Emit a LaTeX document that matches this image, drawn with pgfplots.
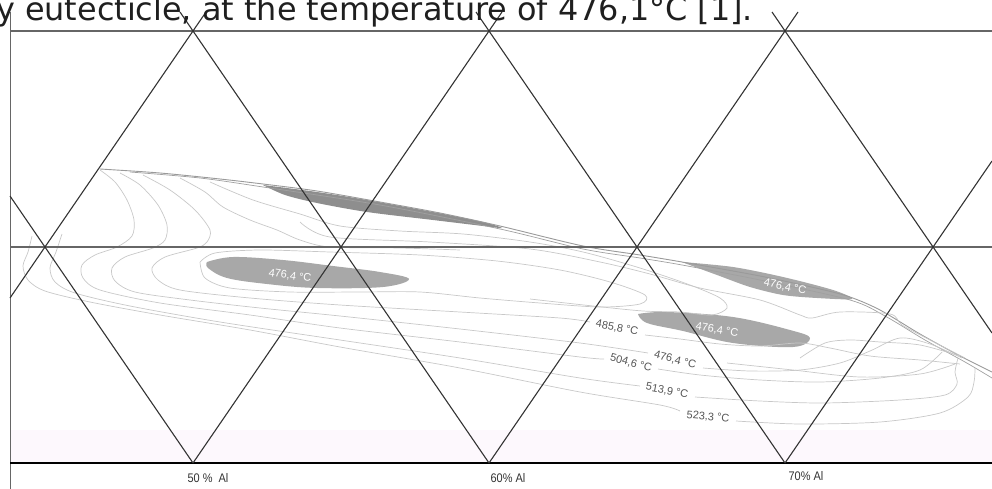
\documentclass[border=0pt]{standalone}
\usepackage{pgfplots}
\pgfplotsset{compat=1.18}
\usepackage{fontspec}
\setmainfont{Liberation Sans}
\newfontfamily\dejavu{DejaVu Sans}
\definecolor{gridc}{HTML}{333333}
\definecolor{hline}{HTML}{666666}
\definecolor{iso}{HTML}{C8C8C8}
\definecolor{bnd}{HTML}{9A9A9A}
\definecolor{blob}{HTML}{A8A8A8}
\definecolor{band}{HTML}{8E8E8E}
\definecolor{pinkbg}{HTML}{FDF8FD}
\definecolor{lbl}{HTML}{555555}

\begin{document}
\begin{tikzpicture}
\useasboundingbox (0,0) rectangle (992bp,489bp);
\clip (0,0) rectangle (992bp,489bp);
\begin{axis}[
    width=992bp, height=489bp, scale only axis,
    xmin=0, xmax=992, ymin=0, ymax=489,
    y dir=reverse,
    hide axis,
    clip=true,
]
% pale band above the base line
\addplot[draw=none, fill=pinkbg] coordinates {(10,430) (992,430) (992,463) (10,463) (10,430)};

% grey eutectic regions
\addplot[draw=none, fill=band, smooth, tension=0.5] coordinates {
  (263,185) (317,192) (367,200) (433,212) (483,222) (502,228)
  (483,226) (433,220) (367,212) (317,203) (285,195) (263,185)};
\addplot[draw=none, fill=blob, smooth, tension=0.6] coordinates {
  (207,262) (233,257) (283,260) (333,266) (380,272) (409,279)
  (383,287) (317,288) (267,284) (227,278) (208,268) (207,262)};
\addplot[draw=none, fill=blob, smooth, tension=0.5] coordinates {
  (682,262) (733,267) (783,277) (833,290) (852,299)
  (817,298) (783,295) (750,287) (717,275) (687,264) (682,262)};
\addplot[draw=none, fill=blob, smooth, tension=0.6] coordinates {
  (638,314) (667,312) (733,317) (790,330) (810,338)
  (793,347) (733,343) (683,331) (647,323) (638,314)};

% upper boundary (double line)
\addplot[bnd, line width=0.9bp, smooth] coordinates {
  (100,169) (160,173) (220,179) (263,184) (317,191) (380,202) (440,213) (500,226)
  (583,246) (640,255) (682,262) (760,276) (820,289) (850,297) (880,310) (920,334) (960,356) (992,372)};
\addplot[iso!80!black, line width=0.7bp, smooth] coordinates {
  (130,172) (200,178) (263,187) (380,205) (500,229) (583,249) (640,258) (682,265)
  (760,280) (850,300) (885,316) (925,340) (965,362) (992,378)};

% isotherms
\addplot[iso, line width=0.7bp, smooth] coordinates {
  (32,236) (28,252) (23,266) (28,280) (45,291) (90,302) (160,315) (250,330) (340,347)
  (460,368) (580,392) (660,405) (680,411)};
\addplot[iso, line width=0.7bp, smooth] coordinates {
  (736,421) (800,424) (880,422) (940,413) (968,397) (974,382) (975,368)};
\addplot[iso, line width=0.7bp, smooth] coordinates {
  (62,234) (56,252) (50,268) (55,282) (75,293) (130,306) (220,322) (340,340) (460,358)
  (580,378) (640,386)};
\addplot[iso, line width=0.7bp, smooth] coordinates {
  (695,397) (760,401) (823,403) (900,400) (945,395) (957,384) (955,372) (958,358)};
\addplot[iso, line width=0.7bp, smooth] coordinates {
  (100,170) (115,182) (127,200) (134,220) (132,236) (117,247) (95,255) (82,265) (83,278)
  (100,290) (160,303) (250,315) (340,328) (460,342) (580,357) (604,359)};
\addplot[iso, line width=0.7bp, smooth] coordinates {
  (658,369) (700,375) (760,380) (820,382) (880,378) (920,370) (942,352)};
\addplot[iso, line width=0.7bp, smooth] coordinates {
  (120,173) (140,185) (158,205) (167,225) (165,240) (153,248) (125,257) (112,268) (115,281)
  (135,292) (190,300) (260,308) (340,316) (460,329) (580,343) (648,353)};
\addplot[iso, line width=0.7bp, smooth] coordinates {
  (703,368) (750,371) (800,370) (840,363) (870,351) (900,338) (930,344) (962,358)};
\addplot[iso, line width=0.7bp, smooth] coordinates {
  (143,175) (170,190) (195,210) (210,230) (207,242) (197,248) (165,257) (152,268) (158,280)
  (180,290) (250,298) (340,305) (460,312) (560,318) (590,322)};
\addplot[iso, line width=0.7bp, smooth] coordinates {
  (645,335) (680,339) (720,344) (760,346) (800,343) (830,348) (870,356) (920,360) (960,364)};
\addplot[iso, line width=0.7bp, smooth] coordinates {
  (200,262) (215,253) (260,250) (330,252) (420,255) (497,261) (560,270) (610,282) (645,295)
  (640,304) (600,307) (540,303) (480,298) (420,292) (360,292) (290,292) (230,288) (205,278) (200,262)};
\addplot[iso, line width=0.7bp, smooth] coordinates {
  (180,178) (205,192) (223,207) (250,220) (277,230) (300,240) (330,247) (400,248) (460,250)};
\addplot[iso, line width=0.7bp, smooth] coordinates {
  (210,182) (253,200) (300,214) (340,226) (400,231) (463,234) (530,242) (583,252) (640,268)
  (690,285) (720,298) (727,308) (712,315) (680,312) (643,311) (593,306) (530,299)};
\addplot[iso, line width=0.7bp, smooth] coordinates {
  (300,222) (330,237) (430,242) (530,249) (600,262) (650,274) (700,288) (760,300)
  (800,315) (812,318) (840,312) (890,314) (902,325) (930,340) (965,358)};
\addplot[iso, line width=0.7bp, smooth] coordinates {
  (800,358) (825,343) (850,340) (880,342) (920,345) (960,356)};
\addplot[iso, line width=0.7bp, smooth] coordinates {
  (727,363) (793,370) (860,377) (920,374) (955,364)};

% triangular grid
\addplot[hline, line width=1.4bp] coordinates {(10,31) (992,31)};
\addplot[hline, line width=1.4bp] coordinates {(10,247) (992,247)};
\addplot[hline, line width=1.0bp] coordinates {(10,12) (10,489)};
\addplot[black, line width=2.8bp] coordinates {(10,463) (992,463)};
\addplot[gridc, line width=1.1bp] coordinates {(10,196) (193,463)};
\addplot[gridc, line width=1.1bp] coordinates {(180,12) (489,463)};
\addplot[gridc, line width=1.1bp] coordinates {(476,12) (785,463)};
\addplot[gridc, line width=1.1bp] coordinates {(772,12) (992,333)};
\addplot[gridc, line width=1.1bp] coordinates {(10,298) (206,12)};
\addplot[gridc, line width=1.1bp] coordinates {(193,463) (502,12)};
\addplot[gridc, line width=1.1bp] coordinates {(489,463) (798,12)};
\addplot[gridc, line width=1.1bp] coordinates {(785,463) (992,161)};

% labels
\node[anchor=base west, inner sep=0pt, text=black!88,
      font=\dejavu\fontsize{32}{38}\selectfont] at (axis cs:-4,21)
      {y eutecticle, at the temperature of 476,1°C [1].};
\begin{scope}[every node/.style={inner sep=0pt, font=\fontsize{11}{13}\selectfont}]
\node[white, rotate=-8] at (axis cs:290,276) {476,4 °C};
\node[white, rotate=-12] at (axis cs:785,287) {476,4 °C};
\node[white, rotate=-9] at (axis cs:717,330) {476,4 °C};
\node[lbl, rotate=-11] at (axis cs:617,328) {485,8 °C};
\node[lbl, rotate=-14] at (axis cs:675,360) {476,4 °C};
\node[lbl, rotate=-15] at (axis cs:631,363) {504,6 °C};
\node[lbl, rotate=-11] at (axis cs:667,391) {513,9 °C};
\node[lbl, rotate=-5] at (axis cs:708,417) {523,3 °C};
\end{scope}
\begin{scope}[every node/.style={inner sep=0pt, text=black!80, xscale=0.88,
      font=\fontsize{12.5}{14}\selectfont}]
\node at (axis cs:208,478) {50 \%\ \ Al};
\node at (axis cs:508,478) {60\% Al};
\node at (axis cs:806,476) {70\% Al};
\end{scope}
\end{axis}
\end{tikzpicture}
\end{document}
